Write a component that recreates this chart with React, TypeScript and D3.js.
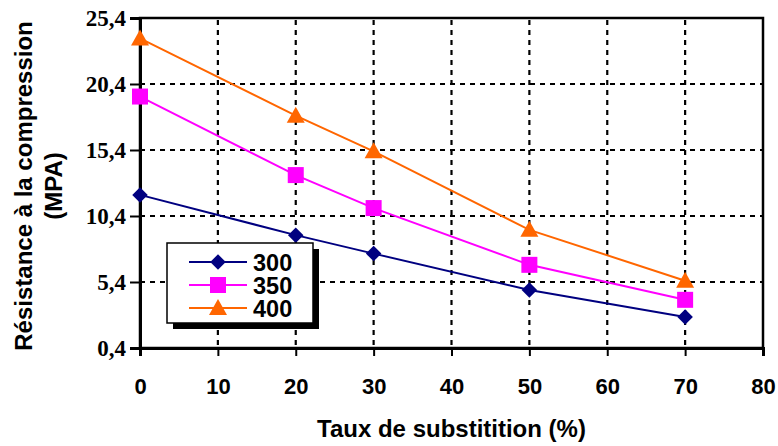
import { useEffect, useRef } from 'react'
import * as d3 from 'd3'

const taux = [0, 20, 30, 50, 70]
const series300 = [12.0, 8.95, 7.55, 4.8, 2.75]
const series350 = [19.45, 13.5, 11.0, 6.7, 4.05]
const series400 = [23.85, 18.0, 15.3, 9.35, 5.5]
const seriesNames = ['300', '350', '400']
const seriesColors = ['#000080', '#ff00ff', '#ff6600']
const yTicks = [0.4, 5.4, 10.4, 15.4, 20.4, 25.4]
const xTicks = [0, 10, 20, 30, 40, 50, 60, 70, 80]

const W = 778
const H = 446
const margin = { top: 18, right: 15, bottom: 98, left: 140 }
const sans = '"Liberation Sans", Arial, sans-serif'

function marker(g: d3.Selection<SVGGElement, unknown, null, undefined>, kind: number, x: number, y: number, color: string) {
  if (kind === 0) {
    g.append('path')
      .attr('d', d3.symbol(d3.symbolSquare, 120)())
      .attr('transform', `translate(${x},${y}) rotate(45)`)
      .attr('fill', color)
  } else if (kind === 1) {
    g.append('rect')
      .attr('x', x - 8).attr('y', y - 8)
      .attr('width', 16).attr('height', 16)
      .attr('fill', color)
  } else {
    g.append('path')
      .attr('d', 'M0,-9L9,7L-9,7Z')
      .attr('transform', `translate(${x},${y})`)
      .attr('fill', color)
  }
}

export default function App() {
  const svgRef = useRef<SVGSVGElement>(null)

  useEffect(() => {
    if (!svgRef.current) return
    const svg = d3.select(svgRef.current)
    svg.selectAll('*').remove()

    const x0 = margin.left
    const x1 = W - margin.right
    const y0 = H - margin.bottom
    const y1 = margin.top

    const xScale = d3.scaleLinear().domain([0, 80]).range([x0, x1])
    const yScale = d3.scaleLinear().domain([0.4, 25.4]).range([y0, y1])

    svg.append('rect').attr('width', W).attr('height', H).attr('fill', '#fff')

    // dashed grid
    const grid = svg.append('g').attr('stroke', '#000').attr('stroke-width', 2.2).attr('stroke-dasharray', '5,5')
    xTicks.slice(1, -1).forEach(t => {
      grid.append('line')
        .attr('x1', xScale(t)).attr('x2', xScale(t))
        .attr('y1', y1 + 2).attr('y2', y0)
    })
    yTicks.slice(1, -1).forEach(t => {
      grid.append('line')
        .attr('x1', x0).attr('x2', x1)
        .attr('y1', yScale(t)).attr('y2', yScale(t))
    })

    // frame
    svg.append('rect')
      .attr('x', x0).attr('y', y1)
      .attr('width', x1 - x0).attr('height', y0 - y1)
      .attr('fill', 'none').attr('stroke', '#000').attr('stroke-width', 2.5)

    // axes
    const yAxis = svg.append('g')
      .attr('transform', `translate(${x0},0)`)
      .call(d3.axisLeft(yScale).tickValues(yTicks).tickSize(10).tickPadding(4)
        .tickFormat(d => d3.format('.1f')(d as number).replace('.', ',')))
    yAxis.select('.domain').attr('stroke-width', 3)
    yAxis.selectAll('.tick line').attr('stroke-width', 2)
    yAxis.selectAll('text')
      .attr('font-family', '"Liberation Serif", "Times New Roman", serif')
      .attr('font-weight', 'bold').attr('font-size', 23).attr('fill', '#000')
      .attr('dy', '0.33em')

    const xAxis = svg.append('g')
      .attr('transform', `translate(0,${y0})`)
      .call(d3.axisBottom(xScale).tickValues(xTicks).tickSize(8).tickPadding(22))
    xAxis.select('.domain').attr('stroke-width', 3)
    xAxis.selectAll('.tick line').attr('stroke-width', 2)
    xAxis.selectAll('text')
      .attr('font-family', sans)
      .attr('font-weight', 'bold').attr('font-size', 22).attr('fill', '#000')

    // series
    const all = [series300, series350, series400]
    const line = d3.line<number>().x((_, i) => xScale(taux[i])).y(d => yScale(d))
    all.forEach((vals, k) => {
      svg.append('path')
        .attr('d', line(vals))
        .attr('fill', 'none')
        .attr('stroke', seriesColors[k])
        .attr('stroke-width', 2)
    })
    all.forEach((vals, k) => {
      const g = svg.append('g')
      vals.forEach((v, i) => marker(g, k, xScale(taux[i]), yScale(v), seriesColors[k]))
    })

    // legend
    const lg = svg.append('g')
    const lx = 167, ly = 243, lw = 146, lh = 80
    lg.append('rect').attr('x', lx + 6).attr('y', ly + 6).attr('width', lw).attr('height', lh).attr('fill', '#000')
    lg.append('rect').attr('x', lx).attr('y', ly).attr('width', lw).attr('height', lh)
      .attr('fill', '#fff').attr('stroke', '#000').attr('stroke-width', 1.5)
    seriesNames.forEach((name, k) => {
      const yy = ly + 19 + k * 23
      lg.append('line').attr('x1', lx + 22).attr('x2', lx + 80)
        .attr('y1', yy).attr('y2', yy)
        .attr('stroke', seriesColors[k]).attr('stroke-width', 2)
      marker(lg, k, lx + 51, yy, seriesColors[k])
      lg.append('text')
        .attr('x', lx + 86).attr('y', yy + 9)
        .attr('font-family', sans)
        .attr('font-weight', 'bold').attr('font-size', 23.5)
        .text(name)
    })

    // titles
    svg.append('text')
      .attr('x', (x0 + x1) / 2).attr('y', 437)
      .attr('text-anchor', 'middle')
      .attr('font-family', sans)
      .attr('font-weight', 'bold').attr('font-size', 24)
      .text('Taux de substitition (%)')

    const yt = svg.append('text')
      .attr('transform', `translate(0,186) rotate(-90)`)
      .attr('text-anchor', 'middle')
      .attr('font-family', sans)
      .attr('font-weight', 'bold').attr('font-size', 24)
    yt.append('tspan').attr('x', 0).attr('y', 32).text('Résistance à la compression')
    yt.append('tspan').attr('x', 0).attr('y', 62).text('(MPA)')
  }, [])

  return (
    <svg ref={svgRef} width={W} height={H} style={{ position: 'absolute', left: 0, top: 0 }} />
  )
}
